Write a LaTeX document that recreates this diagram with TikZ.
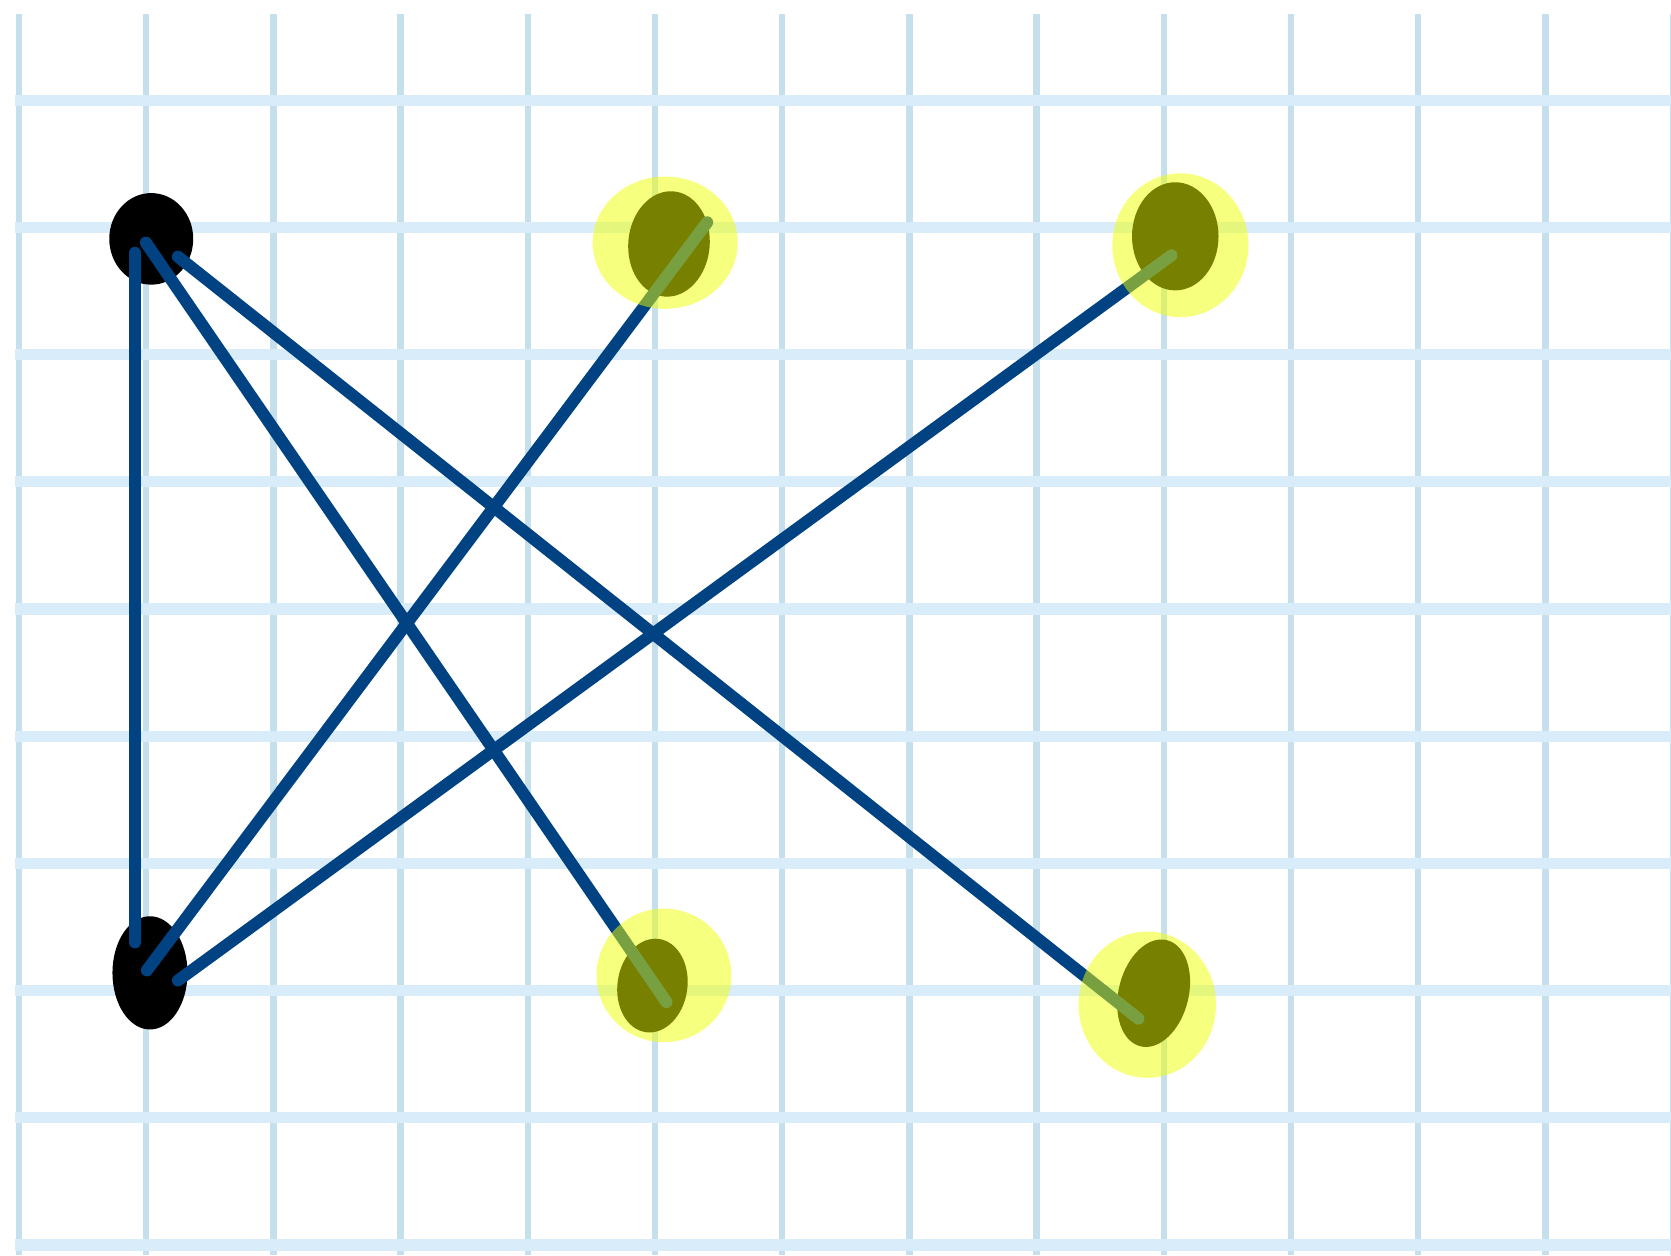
\documentclass[tikz,border=0pt]{standalone}
\usetikzlibrary{shapes.geometric}

\definecolor{gridv}{RGB}{198,223,237}
\definecolor{gridh}{RGB}{216,237,249}
\definecolor{linkblue}{RGB}{0,66,130}
\definecolor{marker}{RGB}{240,255,0}

\begin{document}
\begin{tikzpicture}[
    vline/.style={line width=1.4pt, draw=gridv},
    hline/.style={line width=2.5pt, draw=gridh},
    dot/.style={ellipse, fill=black, inner sep=0pt},
    glow/.style={ellipse, fill=marker, fill opacity=0.5, inner sep=0pt},
    link/.style={line width=2.7pt, draw=linkblue, line cap=round}
]
  \useasboundingbox (-0.149,-0.079) rectangle (12.987,9.788);

  % grid paper
  \foreach \x in {0,...,13}
    \draw[vline] (\x,-0.079) -- (\x,9.678);
  \foreach \y in {0,...,9}
    \draw[hline] (-0.03,\y) -- (12.987,\y);

  % dots on the left
  \node[dot, minimum width=6.6mm, minimum height=7.2mm] (L1) at (1.04,7.91) {};
  \node[dot, minimum width=5.9mm, minimum height=8.9mm] (L2) at (1.03,2.14) {};

  % dots on the right
  \node[dot, minimum width=6.4mm, minimum height=8.3mm, rotate=-5] (R1) at (5.11,7.87) {};
  \node[dot, minimum width=6.8mm, minimum height=8.5mm] (R2) at (9.09,7.93) {};
  \node[dot, minimum width=5.5mm, minimum height=7.4mm, rotate=-8] (R3) at (4.98,2.04) {};
  \node[dot, minimum width=5.5mm, minimum height=8.6mm, rotate=-14] (R4) at (8.92,1.98) {};

  % line ends
  \coordinate (L1v) at (0.912,7.80);
  \coordinate (L1a) at (0.998,7.88);
  \coordinate (L1b) at (1.25,7.77);
  \coordinate (L2v) at (0.912,2.38);
  \coordinate (L2a) at (1.006,2.16);
  \coordinate (L2b) at (1.25,2.08);
  \coordinate (R1e) at (5.41,8.04);
  \coordinate (R2e) at (9.06,7.78);
  \coordinate (R3e) at (5.09,1.91);
  \coordinate (R4e) at (8.80,1.78);

  \draw[link] (L1v) -- (L2v);
  \draw[link] (L1a) -- (R3e);
  \draw[link] (L1b) -- (R4e);
  \draw[link] (L2a) -- (R1e);
  \draw[link] (L2b) -- (R2e);

  % highlighter marks
  \node[glow, minimum width=11.4mm, minimum height=10.4mm] (H1) at (5.08,7.88) {};
  \node[glow, minimum width=10.7mm, minimum height=11.3mm] (H2) at (9.13,7.86) {};
  \node[glow, minimum width=10.6mm, minimum height=10.5mm] (H3) at (5.07,2.12) {};
  \node[glow, minimum width=10.8mm, minimum height=11.5mm] (H4) at (8.87,1.89) {};
\end{tikzpicture}
\end{document}
